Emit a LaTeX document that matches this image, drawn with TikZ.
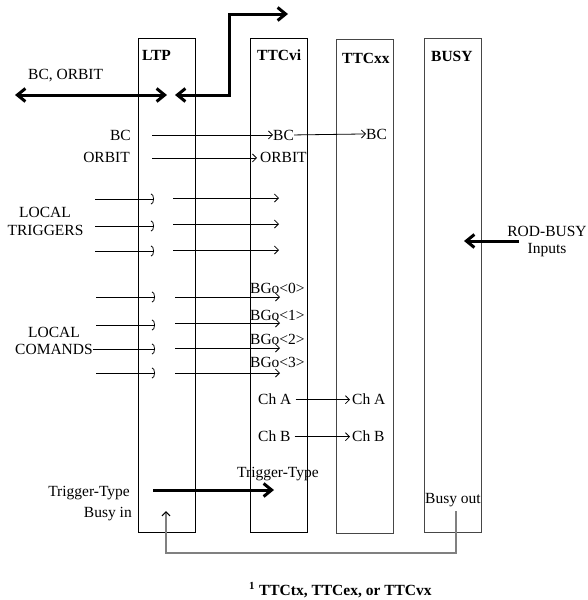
\documentclass[tikz,border=0pt]{standalone}
\usepackage{fontspec}
\setmainfont{Liberation Serif}
\usetikzlibrary{arrows.meta}
\definecolor{midgray}{RGB}{128,128,128}
\definecolor{boxgray}{RGB}{70,70,70}
\begin{document}
\begin{tikzpicture}[x=1pt,y=-1pt,
  lbl/.style={font=\fontsize{15.5}{18}\selectfont, inner sep=0pt},
  ttl/.style={font=\fontsize{15.5}{18}\selectfont\bfseries, inner sep=0pt},
  box/.style={draw, line width=0.9pt, minimum width=57pt, minimum height=494pt, inner sep=0pt},
  thinarr/.style={line width=0.8pt, -{Straight Barb[length=4pt,width=8pt]}},
  arcarr/.style={line width=0.8pt, -{Arc Barb[length=3pt,width=11pt]}},
  thickarr/.style={line width=3pt, -{Straight Barb[length=8pt,width=13pt]}},
  thickboth/.style={line width=3pt, {Straight Barb[length=8pt,width=13pt]}-{Straight Barb[length=8pt,width=13pt]}},
  grayline/.style={draw=midgray, line width=1.2pt, -{Straight Barb[length=4pt,width=8pt,color=black]}}
]
\useasboundingbox (0,0) rectangle (588,600);

% boxes
\node[box] (ltp) at (166.5,285) {};
\node[box] (vi) at (278.5,285) {};
\node[box, draw=boxgray] (xx) at (364.5,286) {};
\node[box, draw=boxgray] (busy) at (452.5,285) {};

% titles
\node[ttl, anchor=base west] (ltpT) at (142,60) {LTP};
\node[ttl, anchor=base west] (viT) at (257,60) {TTCvi};
\node[ttl, anchor=base west] (xxT) at (342,63) {TTCxx};
\node[ttl, anchor=base west] (busyT) at (431,61) {BUSY};

% BC, ORBIT thick arrows
\node[lbl, anchor=base west] (bcorb) at (28,79) {BC, ORBIT};
\coordinate (bo1) at (15,95);
\coordinate (bo2) at (167,95);
\draw[thickboth] (bo1) -- (bo2);
\coordinate (ex1) at (175,95);
\coordinate (ex2) at (288,14);
\draw[thickboth] (ex1) -- ++(54,0) |- (ex2);

% BC / ORBIT
\node[lbl, anchor=base east] (bcL) at (131,140) {BC};
\node[lbl, anchor=base west] (bcV) at (273,140) {BC};
\node[lbl, anchor=base west] (bcX) at (366,139) {BC};
\draw[thinarr] ([xshift=21pt]bcL.east) -- (bcV.west);
\draw[thinarr] (bcV.east) -- (bcX.west);
\node[lbl, anchor=base east] (orL) at (130,162) {ORBIT};
\node[lbl, anchor=base west] (orV) at (260,162) {ORBIT};
\draw[thinarr] ([xshift=22pt,yshift=-1pt]orL.east) -- ([xshift=-3pt,yshift=-1pt]orV.west);

% local triggers
\node[lbl, anchor=base] (lt1) at (45,217) {LOCAL};
\node[lbl, anchor=base] (lt2) at (45.5,235) {TRIGGERS};
\foreach \i/\yl/\yr in {1/199/198, 2/226/224, 3/251/250} {
  \coordinate (tin\i) at (95,\yl);
  \coordinate (tmid\i) at (154,\yl);
  \coordinate (tout\i) at (173,\yr);
  \coordinate (tend\i) at (279,\yr);
  \draw[arcarr] (tin\i) -- (tmid\i);
  \draw[thinarr] (tout\i) -- (tend\i);
}

% local commands
\node[lbl, anchor=base] (lc1) at (54,337) {LOCAL};
\node[lbl, anchor=base] (lc2) at (54,354) {COMANDS};
\foreach \i/\yl/\yr in {1/297/297, 2/325/323, 4/373/373} {
  \coordinate (cin\i) at (96,\yl);
  \coordinate (cmid\i) at (155,\yl);
  \coordinate (cout\i) at (175,\yr);
  \coordinate (cend\i) at (280,\yr);
  \draw[arcarr] (cin\i) -- (cmid\i);
  \draw[thinarr] (cout\i) -- (cend\i);
}
\coordinate (cmid3) at (155,349);
\coordinate (cout3) at (175,348);
\coordinate (cend3) at (280,348);
\draw[arcarr] (lc2.east |- cmid3) -- (cmid3);
\draw[thinarr] (cout3) -- (cend3);

\node[lbl, anchor=base west] (bg0) at (250,293) {BGo<0>};
\node[lbl, anchor=base west] (bg1) at (250,320) {BGo<1>};
\node[lbl, anchor=base west] (bg2) at (250,344) {BGo<2>};
\node[lbl, anchor=base west] (bg3) at (250,367) {BGo<3>};

% Ch A / Ch B
\node[lbl, anchor=base west] (chA1) at (258,404) {Ch A};
\node[lbl, anchor=base west] (chA2) at (352,404) {Ch A};
\draw[thinarr] ([xshift=4pt,yshift=-1pt]chA1.east) -- ([xshift=-2pt,yshift=-1pt]chA2.west);
\node[lbl, anchor=base west] (chB1) at (258,441) {Ch B};
\node[lbl, anchor=base west] (chB2) at (352,441) {Ch B};
\draw[thinarr] ([xshift=4pt,yshift=-1pt]chB1.east) -- ([xshift=-2pt,yshift=-1pt]chB2.west);

% ROD-BUSY
\node[lbl, anchor=base] (rod) at (547,236) {ROD-BUSY};
\node[lbl, anchor=base] (inp) at (547,253) {Inputs};
\coordinate (rb1) at (519,241);
\coordinate (rb2) at (464,241);
\draw[thickarr] (rb1) -- (rb2);

% Trigger-Type
\node[lbl, anchor=base west] (ttV) at (237,477) {Trigger-Type};
\node[lbl, anchor=base east] (ttL) at (130,496) {Trigger-Type};
\coordinate (tt1) at (153,490);
\coordinate (tt2) at (274,490);
\draw[thickarr] (tt1) -- (tt2);

% Busy
\node[lbl, anchor=base east] (bin) at (132,517) {Busy in};
\node[lbl, anchor=base west] (bout) at (425,503) {Busy out};
\coordinate (bo) at (456,511);
\coordinate (bi) at (166,511);
\draw[grayline] (bo) -- ++(0,42) -| (bi);

% footnote
\node[lbl, anchor=base west, font=\fontsize{15.5}{18}\selectfont\bfseries] (fn) at (249,595) {\textsuperscript{1} TTCtx, TTCex, or TTCvx};
\end{tikzpicture}
\end{document}
